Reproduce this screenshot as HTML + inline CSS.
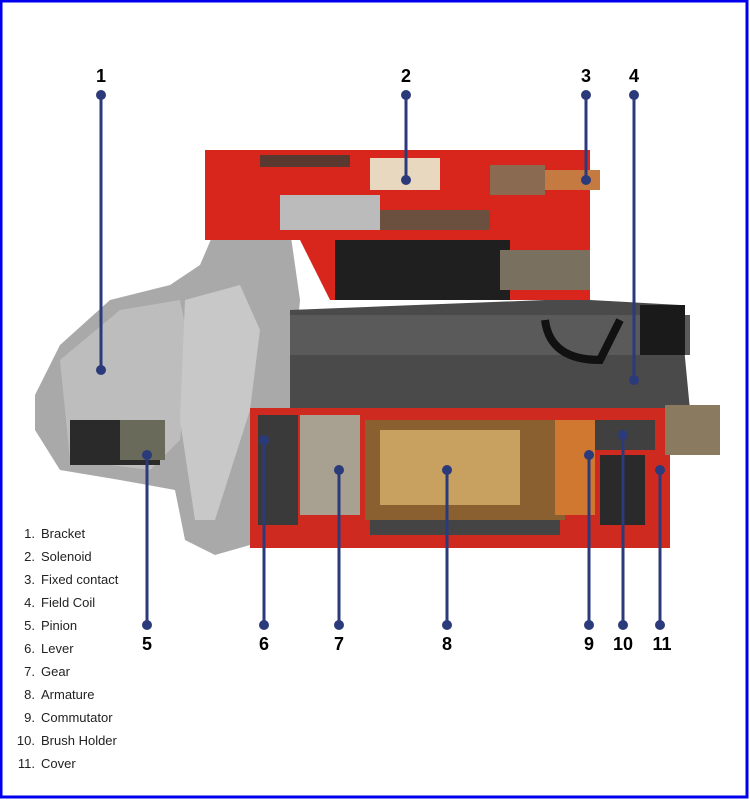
<!DOCTYPE html>
<html><head><style>
body{margin:0;width:750px;height:800px;background:#fff;overflow:hidden}
</style></head><body>
<svg width="750" height="800" viewBox="0 0 750 800" xmlns="http://www.w3.org/2000/svg" style="position:absolute;left:0;top:0">
<rect x="1" y="1" width="746" height="796" fill="#fff" stroke="#0000ee" stroke-width="3"/>
<!-- nose bracket -->
<path d="M35,395 L60,345 L110,300 L170,285 L200,265 L215,230 L290,230 L300,300 L290,410 L250,410 L250,545 L215,555 L185,540 L175,490 L120,480 L60,470 L35,430 Z" fill="#a9a9a9"/>
<path d="M60,360 L120,310 L180,300 L190,350 L180,440 L150,470 L70,460 Z" fill="#bdbdbd"/>
<path d="M185,300 L240,285 L260,330 L250,410 L215,520 L195,520 L180,420 Z" fill="#c8c8c8"/>
<rect x="70" y="420" width="90" height="45" fill="#2a2a2a"/>
<rect x="120" y="420" width="45" height="40" fill="#6a6a5a"/>
<!-- solenoid -->
<path d="M205,150 L590,150 L590,300 L330,300 L300,240 L205,240 Z" fill="#d9261c"/>
<rect x="260" y="155" width="90" height="12" fill="#5a3a30"/>
<rect x="370" y="158" width="70" height="32" fill="#e8d8c0"/>
<rect x="280" y="195" width="100" height="35" fill="#bbb"/>
<rect x="380" y="210" width="110" height="20" fill="#6b5040"/>
<rect x="335" y="240" width="175" height="60" fill="#1f1f1f"/>
<rect x="500" y="250" width="90" height="40" fill="#7a7060"/>
<rect x="545" y="170" width="55" height="20" fill="#c47a40"/>
<rect x="490" y="165" width="55" height="30" fill="#8a6a50"/>
<!-- main body -->
<path d="M290,310 L545,300 L590,300 L680,305 L690,410 L290,415 Z" fill="#4a4a4a"/>
<rect x="290" y="315" width="400" height="40" fill="#5a5a5a"/>
<path d="M545,320 Q550,360 600,360 L620,320" fill="none" stroke="#111" stroke-width="8"/>
<rect x="640" y="305" width="45" height="50" fill="#1a1a1a"/>
<!-- cutaway -->
<rect x="250" y="408" width="420" height="140" fill="#cf2a1f"/>
<rect x="258" y="415" width="40" height="110" fill="#3a3a3a"/>
<rect x="300" y="415" width="60" height="100" fill="#a8a090"/>
<rect x="365" y="420" width="200" height="100" fill="#8a6030"/>
<rect x="380" y="430" width="140" height="75" fill="#c8a060"/>
<rect x="555" y="420" width="40" height="95" fill="#d07830"/>
<rect x="595" y="420" width="60" height="30" fill="#404040"/>
<rect x="600" y="455" width="45" height="70" fill="#2a2a2a"/>
<rect x="370" y="520" width="190" height="15" fill="#444"/>
<rect x="665" y="405" width="55" height="50" fill="#8a7a60"/>
<!-- leader lines -->
<g stroke="#2b3a7a" stroke-width="3" fill="#2b3a7a">
<line x1="101" y1="95" x2="101" y2="370"/><circle cx="101" cy="95" r="3.5"/><circle cx="101" cy="370" r="3.5"/>
<line x1="406" y1="95" x2="406" y2="180"/><circle cx="406" cy="95" r="3.5"/><circle cx="406" cy="180" r="3.5"/>
<line x1="586" y1="95" x2="586" y2="180"/><circle cx="586" cy="95" r="3.5"/><circle cx="586" cy="180" r="3.5"/>
<line x1="634" y1="95" x2="634" y2="380"/><circle cx="634" cy="95" r="3.5"/><circle cx="634" cy="380" r="3.5"/>
<line x1="147" y1="455" x2="147" y2="625"/><circle cx="147" cy="455" r="3.5"/><circle cx="147" cy="625" r="3.5"/>
<line x1="264" y1="440" x2="264" y2="625"/><circle cx="264" cy="440" r="3.5"/><circle cx="264" cy="625" r="3.5"/>
<line x1="339" y1="470" x2="339" y2="625"/><circle cx="339" cy="470" r="3.5"/><circle cx="339" cy="625" r="3.5"/>
<line x1="447" y1="470" x2="447" y2="625"/><circle cx="447" cy="470" r="3.5"/><circle cx="447" cy="625" r="3.5"/>
<line x1="589" y1="455" x2="589" y2="625"/><circle cx="589" cy="455" r="3.5"/><circle cx="589" cy="625" r="3.5"/>
<line x1="623" y1="435" x2="623" y2="625"/><circle cx="623" cy="435" r="3.5"/><circle cx="623" cy="625" r="3.5"/>
<line x1="660" y1="470" x2="660" y2="625"/><circle cx="660" cy="470" r="3.5"/><circle cx="660" cy="625" r="3.5"/>
</g>
<g font-family="Liberation Sans, sans-serif" font-weight="bold" font-size="18" text-anchor="middle" fill="#000">
<text x="101" y="82">1</text><text x="406" y="82">2</text><text x="586" y="82">3</text><text x="634" y="82">4</text>
<text x="147" y="650">5</text><text x="264" y="650">6</text><text x="339" y="650">7</text><text x="447" y="650">8</text>
<text x="589" y="650">9</text><text x="623" y="650">10</text><text x="662" y="650">11</text>
</g>
<g font-family="Liberation Sans, sans-serif" font-size="13" fill="#222">
<text x="35" y="538" text-anchor="end">1.</text><text x="41" y="538">Bracket</text>
<text x="35" y="561" text-anchor="end">2.</text><text x="41" y="561">Solenoid</text>
<text x="35" y="584" text-anchor="end">3.</text><text x="41" y="584">Fixed contact</text>
<text x="35" y="607" text-anchor="end">4.</text><text x="41" y="607">Field Coil</text>
<text x="35" y="630" text-anchor="end">5.</text><text x="41" y="630">Pinion</text>
<text x="35" y="653" text-anchor="end">6.</text><text x="41" y="653">Lever</text>
<text x="35" y="676" text-anchor="end">7.</text><text x="41" y="676">Gear</text>
<text x="35" y="699" text-anchor="end">8.</text><text x="41" y="699">Armature</text>
<text x="35" y="722" text-anchor="end">9.</text><text x="41" y="722">Commutator</text>
<text x="35" y="745" text-anchor="end">10.</text><text x="41" y="745">Brush Holder</text>
<text x="35" y="768" text-anchor="end">11.</text><text x="41" y="768">Cover</text>
</g>
</svg>
</body></html>
